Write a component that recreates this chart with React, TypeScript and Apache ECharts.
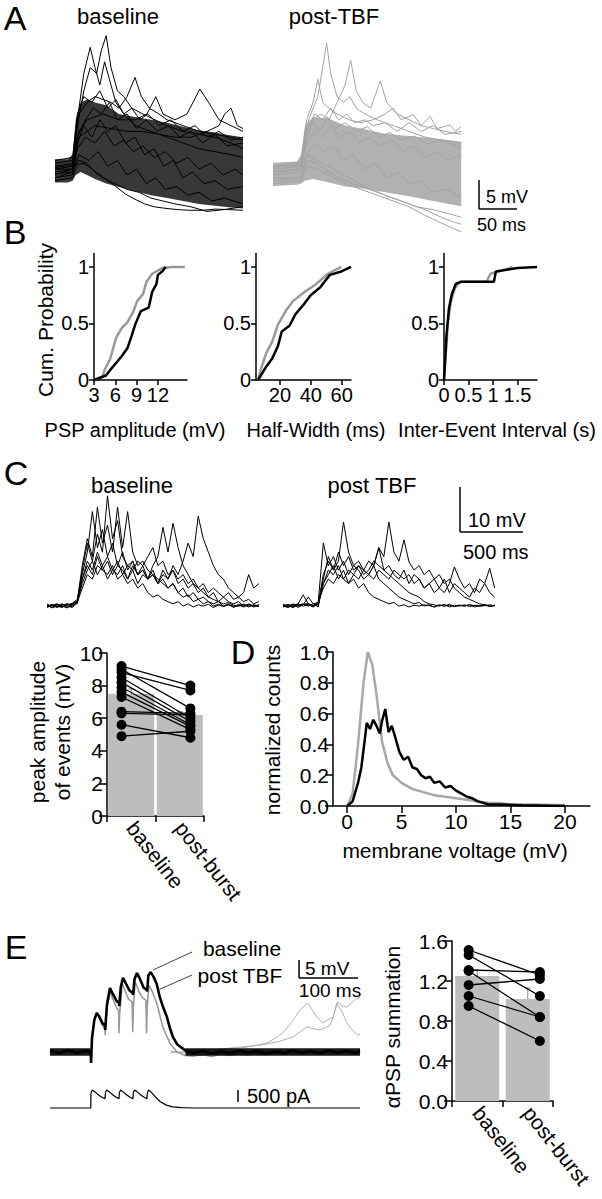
import React, { useEffect, useRef } from 'react';
import * as echarts from 'echarts';

const FONT = '"Liberation Sans", Arial, Helvetica, sans-serif';
const GRAY = '#a3a3a3';
const BAR = '#bdbdbd';

// ---------- Panel A : spontaneous PSPs (time ms, mV) ----------
const A_BASE_BAND_T = [0, 16, 22, 26, 32, 40, 50, 64, 80, 100, 120, 140, 160, 180, 200, 220, 235];
const A_BASE_BAND_U = [2.2, 2.2, 3, 9, 12, 12.5, 12, 11.5, 10, 9.5, 9, 8.5, 7.8, 7.2, 6.8, 6.3, 6];
const A_BASE_BAND_L = [-1.8, -1.8, -1.5, -0.5, 0, -0.5, -1.2, -2, -2.6, -3.3, -4, -4.5, -5, -5.5, -5.8, -6.1, -6.3];
const A_BASE_TRACES = [
  [[0,0.5],[22,1],[28,8],[36,14],[44,18],[52,17],[58,21],[64,23.5],[70,18],[78,14],[86,13],[96,11],[110,10],[125,9],[140,8],[160,7],[180,6.5],[200,6],[220,5],[235,4]],
  [[0,-0.5],[22,0.5],[28,9],[36,17],[44,21.5],[50,18],[56,15],[62,19],[68,16],[76,12],[86,10],[100,8],[120,7],[140,6],[160,5],[180,4],[200,3.5],[220,3],[235,2.5]],
  [[0,1],[22,1.5],[30,10],[40,12],[50,13],[60,12.5],[70,12],[80,11],[90,13],[100,16.3],[108,13],[118,11],[130,10],[140,9],[160,8],[180,7],[200,6.5],[220,6],[235,5.5]],
  [[0,0],[22,0.5],[30,7],[40,9],[60,10],[80,9],[100,9],[115,10],[126,13],[135,10],[150,9],[165,10],[181,14.3],[192,12],[205,9],[220,8],[235,7]],
  [[0,-1],[22,0],[30,6],[50,8],[70,7.5],[90,7],[110,7],[130,6.5],[150,6],[170,6],[190,7],[205,8],[212,10],[220,11],[228,8],[235,7.5]],
  [[0,-1.5],[22,-1],[28,1.3],[36,1.5],[46,0.5],[56,-0.5],[66,-1.5],[76,-2.5],[88,-3.8],[100,-4.7],[112,-5.5],[124,-6],[140,-6.3],[155,-6.5],[168,-6.6],[185,-6.6],[200,-6.4],[220,-6.5],[235,-6.6]],
  [[0,0.5],[22,0.5],[30,2],[40,1.5],[50,0],[60,-1],[75,-2],[90,-3],[105,-3.5],[120,-4.5],[135,-5],[150,-5.5],[170,-6],[190,-6.8],[210,-6.5],[235,-6]],
  [[0,2],[22,2.5],[28,10],[36,13],[46,12],[56,14],[66,11],[76,12.5],[86,10],[96,11],[106,9],[116,10],[130,8],[145,9],[160,7],[175,8],[190,6],[205,7],[220,5.5],[235,6]],
  [[0,1.5],[22,2],[28,6],[38,9],[48,11],[58,10],[68,12],[78,9],[90,10],[102,7.5],[114,9],[128,7],[142,8],[156,6],[170,7],[185,5],[200,6.5],[215,4.5],[235,5]],
  [[0,-1],[22,-0.5],[28,4],[38,6],[50,5],[62,7],[74,4.5],[86,5.5],[98,3.5],[110,4.5],[124,2.5],[138,3.5],[152,1.5],[166,2.5],[180,0.5],[195,1.5],[210,-0.5],[225,0.5],[235,-0.5]],
  [[0,0.8],[22,1.2],[28,5],[36,8],[46,6],[56,9],[66,7],[76,8],[88,5],[100,6],[112,3],[124,4],[136,1],[148,2],[160,-1],[172,0],[186,-2],[200,-1.5],[215,-3],[235,-2.5]],
  [[0,-0.3],[22,0],[30,3],[42,2],[54,3.5],[66,1],[78,2],[90,-0.5],[102,0.5],[114,-2],[126,-1],[138,-3],[152,-2.5],[166,-4],[180,-3.5],[196,-5],[212,-4.5],[235,-5.5]],
];
const A_POST_BAND_T = [0, 30, 35, 40, 50, 70, 90, 110, 140, 170, 200, 235];
const A_POST_BAND_U = [1.6, 1.8, 3, 8, 9.5, 9.2, 8, 7.5, 6.6, 6.2, 5.8, 5.2];
const A_POST_BAND_L = [-2.4, -2.2, -2, -1.5, -1.2, -1.8, -2.5, -2.8, -3.5, -4.2, -5, -5.9];
const A_POST_TRACES = [
  [[0,0.5],[35,1],[42,8],[50,11],[56,13],[62,18],[67,22.2],[72,17],[80,13],[88,12],[96,13],[104,11],[115,10],[130,9],[150,8],[170,7],[190,6],[210,5.5],[235,5]],
  [[0,-0.5],[35,0],[42,7],[50,9],[60,10],[70,9],[80,12],[90,15],[97,19.3],[104,14],[112,12],[122,11],[134,15.7],[142,12],[155,10],[170,9],[185,8],[200,7.5],[215,7],[235,6.5]],
  [[0,1],[35,1.5],[42,9],[50,12],[56,16],[62,12],[70,11],[80,10],[95,9],[110,8.5],[125,9],[140,10],[150,11],[160,9],[175,9.9],[185,8],[196,9.6],[205,7.5],[221,8.1],[228,7],[235,7.8]],
  [[0,-2],[35,-1.5],[42,1],[55,0.5],[70,-0.5],[90,-2],[110,-3],[130,-4],[150,-5],[170,-6],[190,-7.5],[210,-8.8],[225,-9.7],[235,-10.3]],
  [[0,-1],[35,-1],[42,2],[55,1.5],[70,0],[90,-1.5],[110,-2.5],[130,-3.5],[150,-4.5],[170,-5.5],[190,-6.5],[210,-7.8],[225,-8.6],[235,-9]],
  [[0,0],[35,0.5],[42,3],[55,2],[75,0.5],[95,-1],[115,-2.5],[140,-4],[160,-5],[180,-6],[200,-6.5],[220,-7.2],[235,-7.8]],
  [[0,1],[35,1.5],[42,7],[52,10],[62,9],[72,11],[82,9],[92,10],[102,8.5],[115,9],[125,8],[140,8.5],[155,7],[170,8.5],[185,7],[200,8],[215,6.5],[235,7]],
  [[0,0.8],[35,1.2],[42,5],[52,7],[62,6],[72,8],[84,6],[96,7],[108,5],[120,6],[134,4.5],[148,5.5],[162,3.5],[176,4.5],[190,2.5],[205,3.5],[220,2],[235,3]],
  [[0,-1.5],[35,-1],[42,3],[52,5],[64,3.5],[76,4.5],[88,2],[100,3],[114,0.5],[128,1.5],[142,-1],[156,0],[170,-2],[185,-1.5],[200,-3.5],[218,-3],[235,-4.5]],
  [[0,0],[35,0.4],[42,6],[50,8.5],[58,7],[68,9.5],[78,7.5],[90,8.5],[104,7],[118,7.8],[132,6],[146,6.8],[160,5.5],[176,6.2],[192,4.8],[210,5.5],[235,4.2]],
];

// ---------- Panel B : cumulative probability ----------
const B_AMP_BASE = [[3,0],[4.7,0.04],[5.3,0.09],[6.1,0.15],[6.9,0.21],[7.7,0.28],[8.3,0.39],[8.8,0.49],[9.6,0.61],[10.7,0.64],[11.2,0.78],[11.8,0.85],[12,0.93],[12.6,0.96],[13.1,1]];
const B_AMP_POST = [[3,0],[4.2,0.03],[4.5,0.09],[5.3,0.19],[6.1,0.37],[6.9,0.46],[7.7,0.51],[8.5,0.6],[9.1,0.7],[9.9,0.76],[10.4,0.87],[11.2,0.94],[12.6,0.99],[14,1],[15.8,1]];
const B_HW_BASE = [[5.8,0],[11.2,0.12],[15,0.19],[18.7,0.3],[21.2,0.43],[26.2,0.48],[29.9,0.58],[34.9,0.66],[39.9,0.75],[46.1,0.82],[52.3,0.93],[59.8,0.96],[66,1]];
const B_HW_POST = [[5.8,0],[7.5,0.09],[11.2,0.24],[15,0.34],[18.7,0.49],[23.7,0.61],[28.6,0.7],[36.1,0.78],[43.6,0.85],[51,0.94],[59.8,1]];
const B_IEI_BASE = [[0,0],[0.05,0.39],[0.1,0.63],[0.16,0.76],[0.24,0.85],[0.36,0.87],[1.02,0.87],[1.06,0.96],[1.5,0.99],[1.9,1]];
const B_IEI_POST = [[0,0],[0.04,0.24],[0.08,0.51],[0.14,0.69],[0.22,0.81],[0.32,0.87],[0.87,0.87],[0.95,0.94],[1.34,0.99],[1.4,1]];
const B_Y_TICKS = [0, 0.5, 1];
const B_AMP_TICKS = [3, 6, 9, 12];
const B_HW_TICKS = [20, 40, 60];
const B_IEI_TICKS = [0, 0.5, 1, 1.5];

// ---------- Panel C : Up-state traces (time ms, mV) ----------
const C_T = [0,40,80,120,160,200,240,280,320,360,400,440,480,520,560,600,640,680,720,760,800,840,880,920,960,1000,1040,1080,1120,1160,1200,1240,1280,1320,1360,1400,1440,1480,1520,1560,1600,1640,1680];
const C_BASE_TRACES = [
  [0.5,-0.3,0.4,0,-0.4,0.3,0.6,8,14,10,16,12,24.5,15,19,11,9,10,7,8,6,7,5,6,4,5,3,4,2,3,1.5,2,1,0.5,1,0,0.5,-0.3,0.4,0,0.3,-0.2,0.2],
  [0,0.3,-0.3,0.2,0.5,-0.2,1,7,12,21,13,17,11,14,9,12,8,10,7,9,6,8,5,7,6,8,5,6,4,5,3,4,2,3,1,2,1,0.5,1,0,0.5,0,0.3],
  [-0.3,0.2,0.5,-0.2,0.3,0.6,1.5,6,9,7,11,8,10,7,9,8,6,9,7,8,6,9,11,17.5,12,18.4,13,9,7,5,4,3,2,1.5,1,0.5,0.8,0.2,0,0.4,-0.2,0.3,0],
  [0.2,-0.4,0,0.5,-0.3,0.4,1,5,8,10,7,9,6,8,7,9,6,8,5,7,6,7,5,8,6,9,7,10,14,11,20,15,12,9,7,6,4,3,2,3,7,4,5],
  [0,0.3,-0.2,0.4,0,-0.3,0.8,4,7,6,9,8,7,9,6,7,5,6,4,5,3,2,2.5,1.5,1,0.5,1,0,0.5,-0.2,0.3,0,0.4,-0.3,0.2,0,0.3,-0.2,0.1,0.4,0,0.2,-0.1],
  [-0.2,0.4,0,-0.3,0.5,0.2,0.6,6,10,8,12,9,11,8,10,7,9,8,10,9,11,13,9,10,7,8,6,7,5,6,4,5,3,4,3,2,3,1.5,2,1,1.5,0.5,1],
  [0.3,0,0.4,-0.2,0.2,0.5,1.2,9,15,11,22,14,18,12,22,13,21,12,9,10,8,7,6,5,4,5,3,2,2.5,1,1.5,0.5,1,0,0.4,-0.1,0.3,0,0.2,-0.2,0.3,0.1,0],
];
const C_POST_TRACES = [
  [0.3,-0.2,0.4,0,0.3,2,0.5,-0.2,6,11,8,10,18.7,12,9,10,8,7,9,6,5,4,3,2,1.5,1,0.5,0.8,0,0.3,-0.2,0.2,0,0.4,-0.1,0.2,0,0.3,-0.2,0.1,0.3,0,0.2],
  [0,0.4,-0.2,0.5,2.5,0.5,0,0.3,5,8,7,9,6,8,7,9,8,10,9,13,11,18.7,12,10,14.7,9.8,8,9,7,8,6,7,5,6,4,3,2,1.5,1,0.5,0.3,0,0.2],
  [0.2,0,0.5,-0.3,0.3,0.6,0,1,14,9,11,8,10,7,9,8,6,7,9,13,8,7,6,5,4,3,2.5,2,1,0.5,0.3,0,0.4,-0.2,0.2,0,0.3,-0.1,0.2,0,0.1,0.3,0],
  [-0.2,0.3,0,0.2,0.4,0,0.5,0.8,4,6,5,7,6,5,7,6,8,7,6,8,7,6,8,7,6,7,5,6,4,5,6,4,3,5,8.7,6,4,5,3,6,5,8.4,4],
  [0,-0.3,0.2,0.5,0,0.3,-0.2,0.6,5,7,9,6,8,5,6,4,5,3,2,1.5,1,0.5,0.8,0,0.3,-0.2,0.2,0,0.3,0.1,-0.2,0.3,0,0.2,-0.1,0.2,0,0.3,0.1,0,0.2,-0.1,0.1],
  [0.4,0,-0.3,0.2,0.5,0.3,0,0.8,7,10,8,12,9,11,8,9,7,8,10,9,8,9,7,6,8,5,7,6,4,5,3,4,6,3,5,4,3,2,4,3,5,3,2],
];

// ---------- Panel C bar : peak amplitude of events ----------
const CATS = ['baseline', 'post-burst'];
const C_MEANS = [7.5, 6.2];
const C_SEM = [0.3, 0.2];
const C_BASE_PTS = [9.2, 9.0, 8.8, 8.5, 8.2, 7.9, 7.6, 7.3, 6.4, 6.3, 5.6, 4.9];
const C_POST_PTS = [8.0, 6.6, 7.7, 6.0, 5.8, 5.6, 5.5, 5.3, 6.3, 6.2, 4.8, 5.2];

// ---------- Panel D : membrane voltage histogram ----------
const D_POST = [[0,0],[0.5,0.08],[1,0.4],[1.5,0.8],[1.9,1],[2.3,0.92],[2.7,0.72],[3.2,0.42],[3.7,0.28],[4.2,0.2],[5,0.15],[6,0.11],[7,0.09],[8,0.07],[9,0.06],[10,0.05],[11,0.04],[12,0.03],[13,0.02],[14,0.02],[15,0.01],[17,0.01],[20,0.005]];
const D_BASE = [[0,0],[0.5,0.03],[1,0.15],[1.3,0.25],[1.6,0.42],[1.8,0.54],[2.1,0.5],[2.4,0.56],[2.7,0.52],[3,0.47],[3.2,0.55],[3.5,0.63],[3.8,0.48],[4.1,0.52],[4.4,0.45],[4.8,0.35],[5.2,0.3],[5.6,0.32],[6,0.25],[6.4,0.24],[6.8,0.2],[7.2,0.18],[7.6,0.19],[8,0.15],[8.5,0.16],[9,0.12],[9.5,0.13],[10,0.1],[10.5,0.08],[11,0.06],[11.5,0.05],[12,0.03],[12.5,0.02],[13,0.01],[14,0.01],[16,0.005],[20,0]];
const D_X_TICKS = [0, 5, 10, 15, 20];

// ---------- Panel E : summation (time ms, mV / pA) ----------
const E_BASE = [[0,0.3],[15,-0.4],[30,0.5],[45,-0.2],[60,0.4],[68,0],[68.5,-3.2],[70,4],[74,9.5],[78,11.5],[82,10.5],[88,8.3],[91.5,7.9],[92,6.5],[95,14],[100,18.8],[105,17],[111,15],[115,14.4],[115.5,13.5],[118,19],[121.7,21.8],[127,20],[133,18],[138,17.4],[138.5,16.8],[141,21.5],[145,23.2],[150,21.5],[156,19],[161.5,18.2],[162,17.8],[164,22.5],[168,23.5],[173,22],[178,20],[183,16.2],[189,13],[195,10.3],[200,7],[205,4.4],[212,2.3],[220,1.2],[228,0.2],[240,-0.4],[255,0.3],[270,-0.5],[285,0.2],[300,-0.3],[315,0.4],[330,-0.2],[345,0.3],[360,-0.4],[375,0.2],[390,-0.3],[405,0.5],[420,-0.2],[435,0.3],[450,-0.4],[465,0.4],[480,-0.2],[495,0.3],[510,-0.3],[517,0.2]];
// noise envelope of the overlaid baseline sweeps (resting parts only)
const E_NOISE_PRE_T = [0, 67.5];
const E_NOISE_POST_T = [226, 517];
const E_NOISE_U = [1.1, 1.1];
const E_NOISE_L = [-1.1, -1.1];
const E_POST = [[0,0.5],[15,-0.2],[30,0.7],[45,0],[60,0.6],[68,0.2],[68.5,-3],[70,4],[74,9.5],[78,11.5],[82,10],[88,7.5],[91.5,7],[92,5],[95,13],[100,17.6],[105,15.5],[111,13],[114.5,12.2],[115,5.5],[116,11],[119,16.5],[120,20.3],[125,18],[131,15.5],[137,14.8],[138,5.8],[139,13],[142,20.6],[148,18],[154,16],[160,15.2],[161,5.5],[162,13],[165,19.7],[170,18],[178,14.4],[188,7.4],[200,2.6],[212,0],[225,-1],[240,-1.2],[255,-0.8],[270,-1.3],[285,-0.6],[300,-1],[315,-0.5],[330,-0.9],[345,-0.4],[360,-0.8],[375,-0.3],[390,-0.6],[405,-0.2],[420,-0.5],[435,0],[450,-0.3],[465,0.2],[480,-0.2],[495,0.3],[510,-0.1],[517,0.2]];
const E_SPONT_1 = [[200,0.3],[230,-0.4],[260,0.5],[290,0.8],[320,1.2],[345,2],[362,2.6],[375,4],[388,5.6],[400,8],[410,10.5],[417,12.4],[430,14.4],[437,12.5],[445,10.3],[455,8.5],[463,9.5],[472,10.3],[476,12.5],[480,14.7],[487,13.5],[495,13.2],[503,14.5],[510,15.5],[517,16.2]];
const E_SPONT_2 = [[200,-0.3],[240,0.4],[280,0.8],[320,1.5],[350,2],[380,3],[405,4.4],[418,6],[428,7.4],[440,6.8],[450,6.5],[460,7.2],[467,7.9],[472,10],[478,14.4],[483,13],[488,11.5],[494,9],[500,7.4],[507,6],[513,5],[517,5.3]];
const E_CURRENT = [[0,0],[68,0],[68.3,620],[70.5,750],[75,670],[81,540],[87,440],[91.7,390],[92.5,650],[94.5,750],[99,670],[105,540],[111,440],[115,390],[115.8,650],[117.8,750],[122,670],[128,540],[134,440],[138.3,390],[139,650],[141,750],[145.5,670],[151.5,540],[157.5,440],[161.7,390],[162.5,650],[164.5,750],[169,650],[176,460],[184,260],[194,120],[205,50],[220,15],[240,0],[517,0]];

// ---------- Panel E bar : summation ratio ----------
const E_MEANS = [1.25, 1.02];
const E_SEM = [0.06, 0.11];
const E_BASE_PTS = [1.51, 1.46, 1.31, 1.30, 1.16, 1.05, 0.95];
const E_POST_PTS = [1.26, 1.05, 1.29, 0.84, 1.22, 0.84, 0.60];

function buildOption() {
  const grids: any[] = [];
  const xAxes: any[] = [];
  const yAxes: any[] = [];
  const series: any[] = [];

  const addGrid = (g: any, x: any, y: any) => {
    grids.push({ ...g });
    const gi = grids.length - 1;
    xAxes.push({ ...x, gridIndex: gi });
    yAxes.push({ ...y, gridIndex: gi });
    return { gi, xi: xAxes.length - 1, yi: yAxes.length - 1 };
  };
  const addX = (gi: number, x: any) => {
    xAxes.push({ ...x, gridIndex: gi });
    return xAxes.length - 1;
  };
  const hid = (min: number, max: number) => ({ type: 'value', min, max, show: false, splitLine: { show: false } });
  const vis = (min: number, max: number, o: any = {}) => ({
    type: 'value', min, max,
    splitLine: { show: false },
    axisLine: { show: true, onZero: false, lineStyle: { color: '#000', width: 1.5 } },
    axisTick: { show: true, length: o.tickLen ?? 6, lineStyle: { color: '#000', width: 1.5 }, ...(o.ticks ? { customValues: o.ticks } : {}) },
    axisLabel: {
      color: '#000', fontSize: o.fontSize ?? 20, fontFamily: FONT, margin: o.margin ?? 5,
      ...(o.ticks ? { customValues: o.ticks } : {}),
      ...(o.formatter ? { formatter: o.formatter } : {}),
    },
    ...(o.interval ? { interval: o.interval } : {}),
  });
  const line = (xi: number, yi: number, data: any[], color: string, width: number) => ({
    type: 'line', xAxisIndex: xi, yAxisIndex: yi, data, symbol: 'none', showSymbol: false,
    silent: true, lineStyle: { color, width }, z: 3,
  });
  const band = (xi: number, yi: number, T: number[], U: number[], L: number[], color: string, opacity: number, z = 2) => ({
    type: 'custom', xAxisIndex: xi, yAxisIndex: yi, silent: true, z,
    data: T.map((t, i) => [t, U[i], L[i]]),
    encode: { x: 0, y: [1, 2] },
    renderItem: (params: any, api: any) => {
      if (params.dataIndex !== 0) return null;
      const up = T.map((t, i) => api.coord([t, U[i]]));
      const lo = T.map((t, i) => api.coord([t, L[i]])).reverse();
      return { type: 'polygon', shape: { points: up.concat(lo) }, style: { fill: color, opacity } };
    },
  });

  // ----- A -----
  const a1 = addGrid({ left: 55, top: 27, width: 188, height: 197.2 }, hid(0, 235), hid(-9, 25));
  series.push(band(a1.xi, a1.yi, A_BASE_BAND_T, A_BASE_BAND_U, A_BASE_BAND_L, '#000', 0.78));
  A_BASE_TRACES.forEach((tr) => series.push(line(a1.xi, a1.yi, tr, '#000', 1)));
  const a2 = addGrid({ left: 273, top: 27, width: 189, height: 208.8 }, hid(0, 236), hid(-11, 25));
  series.push(band(a2.xi, a2.yi, A_POST_BAND_T, A_POST_BAND_U, A_POST_BAND_L, GRAY, 0.85));
  A_POST_TRACES.forEach((tr) => series.push(line(a2.xi, a2.yi, tr, GRAY, 1)));

  // ----- B -----
  const bTop = 253.4, bH = 126.6;
  const yB = () => vis(0, 1.12, { ticks: B_Y_TICKS, tickLen: 5 });
  const b1 = addGrid({ left: 94, top: bTop, width: 93, height: bH }, vis(3, 16.1, { ticks: B_AMP_TICKS, tickLen: 5 }), yB());
  series.push(line(b1.xi, b1.yi, B_AMP_POST, '#999', 2.5));
  series.push(line(b1.xi, b1.yi, B_AMP_BASE, '#000', 2.5));
  const b2 = addGrid({ left: 256, top: bTop, width: 95, height: bH }, vis(4.5, 66, { ticks: B_HW_TICKS, tickLen: 5 }), yB());
  series.push(line(b2.xi, b2.yi, B_HW_POST, '#999', 2.5));
  series.push(line(b2.xi, b2.yi, B_HW_BASE, '#000', 2.5));
  const b3 = addGrid({ left: 444, top: bTop, width: 93, height: bH }, vis(0, 1.9, { ticks: B_IEI_TICKS, tickLen: 5 }), yB());
  series.push(line(b3.xi, b3.yi, B_IEI_POST, '#999', 2.5));
  series.push(line(b3.xi, b3.yi, B_IEI_BASE, '#000', 2.5));

  // ----- C traces -----
  const c1 = addGrid({ left: 47, top: 490, width: 215, height: 125.1 }, hid(0, 1706), hid(-2, 25.8));
  C_BASE_TRACES.forEach((tr) => series.push(line(c1.xi, c1.yi, C_T.map((t, i) => [t, tr[i]]), '#000', 1)));
  const c2 = addGrid({ left: 283, top: 490, width: 214, height: 125.1 }, hid(0, 1698), hid(-2, 25.8));
  C_POST_TRACES.forEach((tr) => series.push(line(c2.xi, c2.yi, C_T.map((t, i) => [t, tr[i]]), '#000', 1)));

  // ----- bar charts helper -----
  const barPanel = (g: any, yMax: number, interval: number, fmt: any, means: number[], sem: number[], basePts: number[], postPts: number[], barW: number, offL: number, offR: number) => {
    const p = addGrid(
      g,
      {
        type: 'category', data: CATS,
        axisLine: { show: true, lineStyle: { color: '#000', width: 1.5 } },
        axisTick: { show: true, length: 6, alignWithLabel: false, lineStyle: { color: '#000', width: 1.5 } },
        axisLabel: { interval: 0, rotate: -52, color: '#000', fontSize: 21, fontFamily: FONT, margin: 8 },
      },
      { ...vis(0, yMax, { interval, tickLen: 8, fontSize: 21, margin: 4, formatter: fmt }) },
    );
    const xv = addX(p.gi, hid(-0.5, 1.5));
    series.push({
      type: 'bar', xAxisIndex: p.xi, yAxisIndex: p.yi, data: means, barWidth: barW,
      itemStyle: { color: BAR }, silent: true, z: 1,
    });
    means.forEach((m, i) => {
      series.push(line(xv, p.yi, [[i, m], [i, m + sem[i]]], '#8a8a8a', 1));
      series.push(line(xv, p.yi, [[i - 0.06, m + sem[i]], [i + 0.06, m + sem[i]]], '#8a8a8a', 1));
    });
    basePts.forEach((b, i) => {
      series.push({
        type: 'line', xAxisIndex: xv, yAxisIndex: p.yi, data: [[0 + offL, b], [1 + offR, postPts[i]]],
        symbol: 'circle', symbolSize: 10, showSymbol: true, silent: true, z: 4,
        itemStyle: { color: '#000', borderWidth: 0 }, lineStyle: { color: '#000', width: 1.3 },
      });
    });
  };
  barPanel({ left: 107, top: 653, width: 97, height: 163 }, 10, 2, (v: number) => String(v), C_MEANS, C_SEM, C_BASE_PTS, C_POST_PTS, 46, -0.2, 0.22);

  // ----- D -----
  const d = addGrid(
    { left: 333, top: 652, width: 257, height: 154 },
    vis(-1.3, 22.3, { ticks: D_X_TICKS, tickLen: 7, fontSize: 21, margin: 5 }),
    vis(0, 1, { interval: 0.2, tickLen: 8, fontSize: 21, margin: 4, formatter: (v: number) => v.toFixed(1) }),
  );
  series.push(line(d.xi, d.yi, D_POST, '#a8a8a8', 2.5));
  series.push(line(d.xi, d.yi, D_BASE, '#000', 2.5));

  // ----- E traces -----
  const e = addGrid({ left: 50, top: 964.96, width: 310, height: 100.64 }, hid(0, 517), hid(-4, 25.6));
  series.push(line(e.xi, e.yi, E_SPONT_1, '#b0b0b0', 1));
  series.push(line(e.xi, e.yi, E_SPONT_2, '#b0b0b0', 1));
  series.push(line(e.xi, e.yi, E_POST, '#9a9a9a', 1.6));
  series.push(band(e.xi, e.yi, E_NOISE_PRE_T, E_NOISE_U, E_NOISE_L, '#000', 0.9, 4));
  series.push(band(e.xi, e.yi, E_NOISE_POST_T, E_NOISE_U, E_NOISE_L, '#000', 0.9, 4));
  series.push({ ...line(e.xi, e.yi, E_BASE, '#000', 2.6), z: 5 });
  const ei = addGrid({ left: 50, top: 1088.8, width: 310, height: 20.4 }, hid(0, 517), hid(-50, 800));
  series.push(line(ei.xi, ei.yi, E_CURRENT, '#000', 1.2));

  // ----- E bar -----
  barPanel({ left: 452, top: 941, width: 101, height: 160 }, 1.6, 0.4, (v: number) => v.toFixed(1), E_MEANS, E_SEM, E_BASE_PTS, E_POST_PTS, 44, -0.17, 0.24);

  const T = (text: string, x: number, y: number, size: number, o: any = {}) => ({
    type: 'text', x, y, rotation: o.rot ?? 0, silent: true, z: 10,
    style: { text, fontSize: size, fontFamily: FONT, fill: '#000', align: o.align ?? 'center', verticalAlign: 'middle' },
  });
  const L = (x1: number, y1: number, x2: number, y2: number, w = 1.5, c = '#000') => ({
    type: 'line', silent: true, z: 10, shape: { x1, y1, x2, y2 }, style: { stroke: c, lineWidth: w },
  });
  const V = Math.PI / 2;
  const graphic = [
    // panel letters
    T('A', 15, 18, 34), T('B', 15, 232, 34), T('C', 16, 473, 34), T('D', 243, 652, 34), T('E', 16, 947, 34),
    // A
    T('baseline', 118, 16, 22), T('post-TBF', 334, 16, 22),
    L(479, 180, 479, 209), L(479, 209, 517, 209),
    T('5 mV', 486, 197, 18, { align: 'left' }), T('50 ms', 477, 225, 18, { align: 'left' }),
    // B
    T('Cum. Probability', 45, 320, 21, { rot: V }),
    T('PSP amplitude (mV)', 135, 430, 20), T('Half-Width (ms)', 316, 430, 20), T('Inter-Event Interval (s)', 497, 430, 20),
    // C
    T('baseline', 132, 485, 22), T('post TBF', 372, 485, 22),
    L(460, 487, 460, 532), L(460, 532, 523, 532),
    T('10 mV', 468, 520, 20, { align: 'left' }), T('500 ms', 463, 552, 20, { align: 'left' }),
    T('peak amplitude', 37, 732, 21, { rot: V }), T('of events (mV)', 62, 732, 21, { rot: V }),
    // D
    T('normalized counts', 272, 730, 21, { rot: V }), T('membrane voltage (mV)', 455, 850, 21),
    // E
    T('baseline', 242, 948, 21), T('post TBF', 240, 975, 21),
    L(153, 970, 192, 952, 1, '#444'), L(158, 990, 192, 975, 1, '#444'),
    L(299, 960, 299, 978), L(299, 978, 358, 978),
    T('5 mV', 305, 968, 19, { align: 'left' }), T('100 ms', 330, 990, 19),
    L(238, 1090, 238, 1102), T('500 pA', 247, 1096, 20, { align: 'left' }),
    T('\u03b1PSP summation', 392, 1027, 21, { rot: V }),
  ];

  return {
    animation: false,
    backgroundColor: '#fff',
    textStyle: { fontFamily: FONT },
    grid: grids,
    xAxis: xAxes,
    yAxis: yAxes,
    series,
    graphic,
  };
}

export default function App() {
  const ref = useRef<HTMLDivElement>(null);
  useEffect(() => {
    if (!ref.current) return;
    const chart = echarts.init(ref.current, null, { renderer: 'svg' });
    chart.setOption(buildOption() as any);
    return () => chart.dispose();
  }, []);
  return <div ref={ref} style={{ position: 'absolute', left: 0, top: 0, width: 602, height: 1199, background: '#fff' }} />;
}
